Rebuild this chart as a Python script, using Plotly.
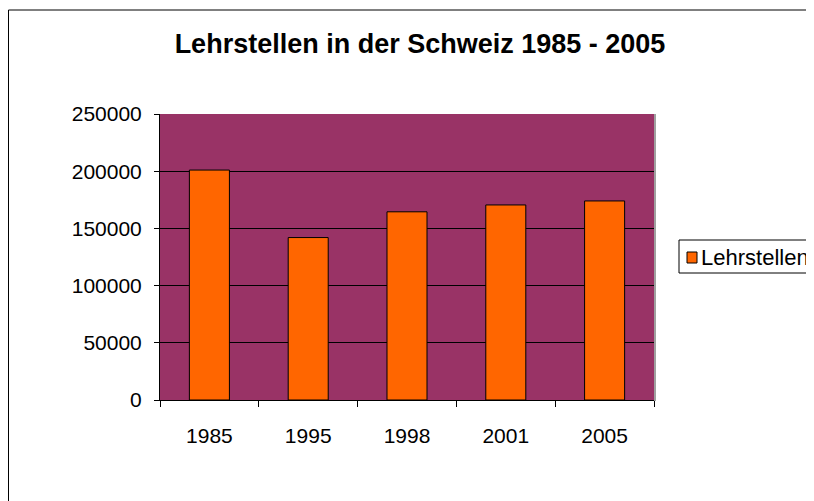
import plotly.graph_objects as go

years = ["1985", "1995", "1998", "2001", "2005"]
lehrstellen = [201000, 142000, 164500, 170500, 174000]
y_ticks = [0, 50000, 100000, 150000, 200000, 250000]
series_name = "Lehrstellen"

OFF = 8  # page body margin
W, H = 814 - OFF, 501 - OFF
L, R, T, B = 160 - OFF, 654 - OFF, 114 - OFF, 400 - OFF
pw, ph = R - L, B - T


def px(x_page):
    return (x_page - OFF - L) / pw


def py(y_page):
    return (B - (y_page - OFF)) / ph


font = "Liberation Sans, Arial, sans-serif"
FS = 21

fig = go.Figure()
fig.add_trace(go.Bar(
    x=years, y=lehrstellen, name=series_name,
    marker=dict(color="#FF6600", line=dict(color="black", width=1)),
    showlegend=False,
))

shapes = [
    # outer chart border
    dict(type="rect", xref="paper", yref="paper",
         x0=(0.5 - L) / pw, x1=px(830), y0=py(10), y1=py(520),
         line=dict(color="black", width=1), fillcolor="rgba(0,0,0,0)", layer="below"),
    # right shadow of plot area
    dict(type="line", xref="paper", yref="paper",
         x0=px(655), x1=px(655), y0=py(114), y1=py(401),
         line=dict(color="#A0A0A0", width=2)),
    # legend box
    dict(type="rect", xref="paper", yref="paper",
         x0=px(679), x1=px(830), y0=py(240), y1=py(273),
         line=dict(color="black", width=1), fillcolor="white"),
    # legend swatch
    dict(type="rect", xref="paper", yref="paper",
         x0=px(687), x1=px(697), y0=py(252), y1=py(263),
         line=dict(color="black", width=1), fillcolor="#FF6600"),
]

annotations = [
    dict(text=series_name, xref="paper", yref="paper",
         x=px(699), y=py(257), xanchor="left", yanchor="middle",
         showarrow=False, font=dict(family=font, size=22, color="black")),
]

fig.update_layout(
    width=W, height=H,
    margin=dict(l=L, r=W - R, t=T, b=H - B, autoexpand=False),
    paper_bgcolor="white",
    plot_bgcolor="#993366",
    bargap=0.595,
    title=dict(text="<b>Lehrstellen in der Schweiz 1985 - 2005</b>",
               x=(420 - OFF) / W, xanchor="center", y=1 - (44 - OFF) / H, yanchor="middle",
               font=dict(family=font, size=27, color="black")),
    font=dict(family=font, size=FS, color="black"),
    showlegend=False,
    xaxis=dict(type="category", showline=True, linecolor="black", linewidth=1,
               ticks="outside", ticklen=6, tickcolor="black", tickson="boundaries",
               showgrid=False, ticklabelstandoff=17,
               tickfont=dict(size=FS)),
    yaxis=dict(range=[0, 250000], tickvals=y_ticks, ticktext=[str(v) for v in y_ticks],
               showline=True, linecolor="black", linewidth=1,
               ticks="outside", ticklen=5, tickcolor="black",
               showgrid=True, gridcolor="black", gridwidth=1,
               zeroline=False, ticklabelstandoff=8, tickfont=dict(size=FS)),
    shapes=shapes,
    annotations=annotations,
)

fig.write_html("out.html")
